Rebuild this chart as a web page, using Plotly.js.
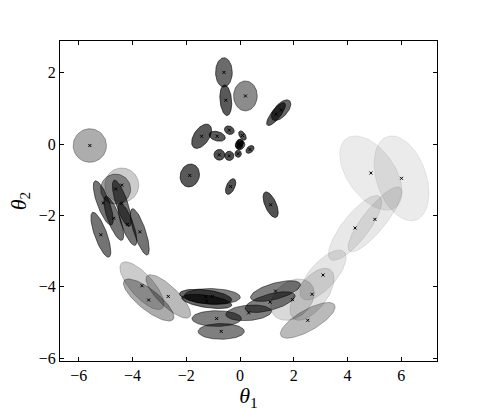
<!DOCTYPE html>
<html>
<head>
<meta charset="utf-8">
<script src="https://cdn.plot.ly/plotly-3.0.1.min.js"></script>
<style>html,body{margin:0;padding:0;background:#fff}</style>
</head>
<body>
<div id="myPlot" style="width:485px;height:411px"></div>
<script>
// Component means (theta1, theta2)
const meanX = [-0.60, -0.53, 0.20, 1.34, 1.53, -1.43, -0.85, -0.40, 0.09, -0.03,
               0.03, 0.00, -0.04, 0.37, -0.77, -0.40, -0.07, -1.87, -0.35, 1.14,
               -5.59, -4.40, -4.63, -5.09, -4.40, -4.70, -4.19, -5.18, -3.73, -3.65,
               -3.40, -2.67, -1.28, -1.03, -1.24, -0.87, -0.70, 0.32, 1.32, 1.12,
               1.95, 2.68, 2.52, 3.09, 4.87, 6.01, 5.02, 4.28];
const meanY = [2.01, 1.23, 1.35, 0.84, 0.95, 0.22, 0.22, 0.39, 0.24, 0.01,
               -0.04, 0.04, -0.05, -0.15, -0.30, -0.33, -0.27, -0.88, -1.19, -1.70,
               -0.04, -1.15, -1.26, -1.65, -1.66, -2.08, -2.25, -2.54, -2.46, -3.97,
               -4.37, -4.27, -4.28, -4.27, -4.41, -4.89, -5.25, -4.73, -4.12, -4.43,
               -4.36, -4.21, -4.94, -3.67, -0.81, -0.96, -2.11, -2.35];
// Spread of each component along theta1 / theta2, and their correlation
const spreadX = [0.31, 0.22, 0.44, 0.35, 0.36, 0.37, 0.30, 0.18, 0.14, 0.15,
                 0.15, 0.13, 0.13, 0.15, 0.20, 0.17, 0.12, 0.36, 0.19, 0.28,
                 0.62, 0.63, 0.56, 0.37, 0.35, 0.37, 0.35, 0.37, 0.35, 0.82,
                 0.94, 0.83, 0.97, 1.04, 0.93, 0.92, 0.86, 0.85, 0.93, 0.93,
                 0.81, 0.82, 1.02, 0.86, 1.16, 1.02, 1.00, 0.99];
const spreadY = [0.41, 0.43, 0.42, 0.32, 0.29, 0.34, 0.14, 0.12, 0.13, 0.12,
                 0.12, 0.10, 0.10, 0.11, 0.15, 0.13, 0.10, 0.32, 0.22, 0.36,
                 0.47, 0.48, 0.42, 0.62, 0.65, 0.62, 0.59, 0.63, 0.65, 0.67,
                 0.59, 0.61, 0.21, 0.22, 0.20, 0.22, 0.22, 0.22, 0.29, 0.29,
                 0.58, 0.73, 0.50, 0.70, 1.04, 1.19, 0.91, 0.91];
const corr = [0.0, -0.2, 0.0, 0.8, 0.6, 0.5, -0.3, -0.2, -0.5, 0.3,
              0.3, 0.0, 0.0, 0.4, 0.0, 0.0, 0.0, 0.1, 0.5, -0.6,
              0.0, 0.0, 0.0, -0.76, -0.76, -0.76, -0.76, -0.76, -0.76, -0.75,
              -0.8, -0.8, -0.4, -0.1, -0.5, 0.0, 0.0, 0.2, 0.6, 0.6,
              0.3, 0.6, 0.75, 0.7, -0.5, -0.35, 0.85, 0.8];
// Component weight, shown as opacity
const weight = [0.58, 0.65, 0.45, 0.65, 0.6, 0.65, 0.65, 0.68, 0.68, 0.6,
                0.6, 0.6, 0.6, 0.68, 0.68, 0.68, 0.68, 0.65, 0.68, 0.68,
                0.32, 0.2, 0.38, 0.55, 0.55, 0.55, 0.55, 0.55, 0.55, 0.2,
                0.33, 0.27, 0.6, 0.5, 0.6, 0.5, 0.5, 0.5, 0.5, 0.5,
                0.15, 0.12, 0.27, 0.1, 0.08, 0.08, 0.09, 0.09];

const traces = [];
for (let i = 0; i < meanX.length; i++) {
  const xs = [], ys = [];
  const r = corr[i], s = Math.sqrt(1 - r * r);
  for (let k = 0; k <= 72; k++) {
    const t = 2 * Math.PI * k / 72;
    xs.push(meanX[i] + spreadX[i] * Math.cos(t));
    ys.push(meanY[i] + spreadY[i] * (r * Math.cos(t) + s * Math.sin(t)));
  }
  const c = "rgba(0,0,0," + weight[i] + ")";
  traces.push({
    x: xs, y: ys, mode: "lines", fill: "toself",
    fillcolor: c, line: {color: c, width: 1},
    hoverinfo: "skip", showlegend: false
  });
}

// centres
traces.push({
  x: meanX, y: meanY, mode: "markers", showlegend: false,
  marker: {symbol: "x-thin", size: 3, line: {color: "#000", width: 1}}
});

const tickFont = {family: "Liberation Serif, serif", size: 16, color: "#000"};
const axisCommon = {
  showline: true, linecolor: "#000", linewidth: 1, mirror: "ticks",
  ticks: "inside", ticklen: 4, tickcolor: "#000", tickwidth: 1,
  showgrid: false, zeroline: false, tickfont: tickFont, automargin: false
};

const layout = {
  width: 485, height: 411,
  margin: {l: 60, r: 48, t: 41, b: 50},
  paper_bgcolor: "#fff", plot_bgcolor: "#fff",
  xaxis: Object.assign({}, axisCommon, {
    range: [-6.7, 7.33], tickvals: [-6, -4, -2, 0, 2, 4, 6],
    title: {text: "<i>θ</i><sub>1</sub>", font: {family: "Liberation Serif, serif", size: 22, color: "#000"}, standoff: 6}
  }),
  yaxis: Object.assign({}, axisCommon, {
    range: [-6.08, 2.89], tickvals: [-6, -4, -2, 0, 2],
    title: {text: "<i>θ</i><sub>2</sub>", font: {family: "Liberation Serif, serif", size: 22, color: "#000"}, standoff: 6}
  })
};

Plotly.newPlot("myPlot", traces, layout, {staticPlot: true});
</script>
</body>
</html>
